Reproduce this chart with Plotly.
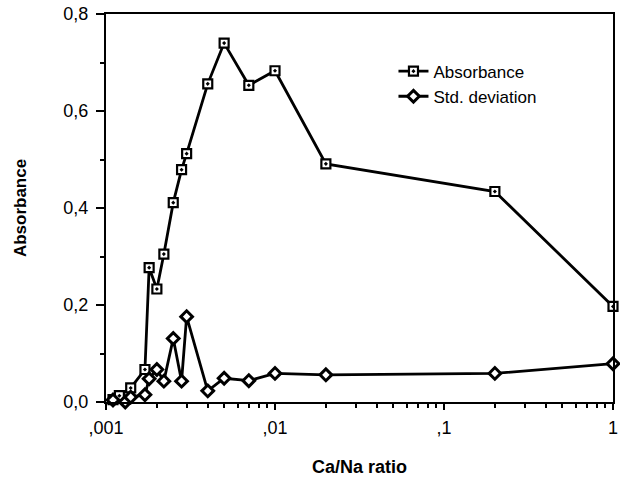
import plotly.graph_objects as go

# Data
abs_ratio = [0.0011, 0.0012, 0.0014, 0.0017, 0.0018, 0.002, 0.0022, 0.0025, 0.0028, 0.003,
             0.004, 0.005, 0.007, 0.01, 0.02, 0.2, 1.0]
absorbance = [0.005, 0.013, 0.029, 0.067, 0.277, 0.233, 0.305, 0.411, 0.479, 0.512,
              0.656, 0.740, 0.653, 0.683, 0.491, 0.434, 0.197]

std_ratio = [0.0011, 0.0013, 0.0014, 0.0017, 0.0018, 0.002, 0.0022, 0.0025, 0.0028, 0.003,
             0.004, 0.005, 0.007, 0.01, 0.02, 0.2, 1.0]
std_dev = [0.004, 0.0, 0.010, 0.015, 0.048, 0.067, 0.043, 0.131, 0.043, 0.176,
           0.023, 0.049, 0.044, 0.059, 0.056, 0.059, 0.079]

x_tickvals = [0.001, 0.01, 0.1, 1]
x_ticktext = [",001", ",01", ",1", "1"]
y_tickvals = [0.0, 0.2, 0.4, 0.6, 0.8]
y_ticktext = ["0,0", "0,2", "0,4", "0,6", "0,8"]

FONT = "Liberation Sans, Arial, Helvetica, sans-serif"

fig = go.Figure()
fig.add_trace(go.Scatter(
    x=abs_ratio, y=absorbance, mode="lines+markers", name="Absorbance",
    line=dict(color="black", width=2.8),
    marker=dict(symbol="square-dot", size=9, color="white",
                line=dict(color="black", width=2.2)),
    cliponaxis=False,
))
fig.add_trace(go.Scatter(
    x=std_ratio, y=std_dev, mode="lines+markers", name="Std. deviation",
    line=dict(color="black", width=2.8),
    marker=dict(symbol="diamond", size=9, color="white",
                line=dict(color="black", width=3)),
    cliponaxis=False,
))

fig.update_layout(
    width=620, height=480,
    margin=dict(l=106, r=7, t=14, b=78, autoexpand=False),
    paper_bgcolor="white", plot_bgcolor="white",
    font=dict(family=FONT, color="black", size=18),
    showlegend=True,
    legend=dict(x=0.567, y=0.898, xanchor="left", yanchor="top",
                bgcolor="rgba(0,0,0,0)", font=dict(size=17, family=FONT),
                itemwidth=30, tracegroupgap=0),
)

fig.update_xaxes(
    type="log", range=[-3, 0],
    tickvals=x_tickvals, ticktext=x_ticktext,
    ticks="outside", ticklen=6, tickwidth=2, tickcolor="black",
    minor=dict(ticks="outside", ticklen=4, tickwidth=2, tickcolor="black", dtick="D1", showgrid=False),
    showline=True, linewidth=2, linecolor="black", mirror=True,
    showgrid=False, zeroline=False,
    tickfont=dict(size=18, family=FONT),
    ticklabelstandoff=2,
    ticklabeloverflow="allow",
    title=dict(text="<b>Ca/Na ratio</b>", font=dict(size=18, family=FONT), standoff=24),
    automargin=False,
)
fig.update_yaxes(
    range=[0, 0.8],
    tickvals=y_tickvals, ticktext=y_ticktext,
    ticks="outside", ticklen=8, tickwidth=2, tickcolor="black",
    minor=dict(ticks="outside", ticklen=4, tickwidth=2, tickcolor="black", dtick=0.1, showgrid=False),
    showline=True, linewidth=2, linecolor="black", mirror=True,
    showgrid=False, zeroline=False,
    tickfont=dict(size=18, family=FONT),
    ticklabelstandoff=4,
    ticklabeloverflow="allow",
    title=dict(text="<b>Absorbance</b>", font=dict(size=17, family=FONT), standoff=32),
    automargin=False,
)

fig.write_html("out.html", config={"displayModeBar": False},
               post_script="document.body.style.margin='0';")
